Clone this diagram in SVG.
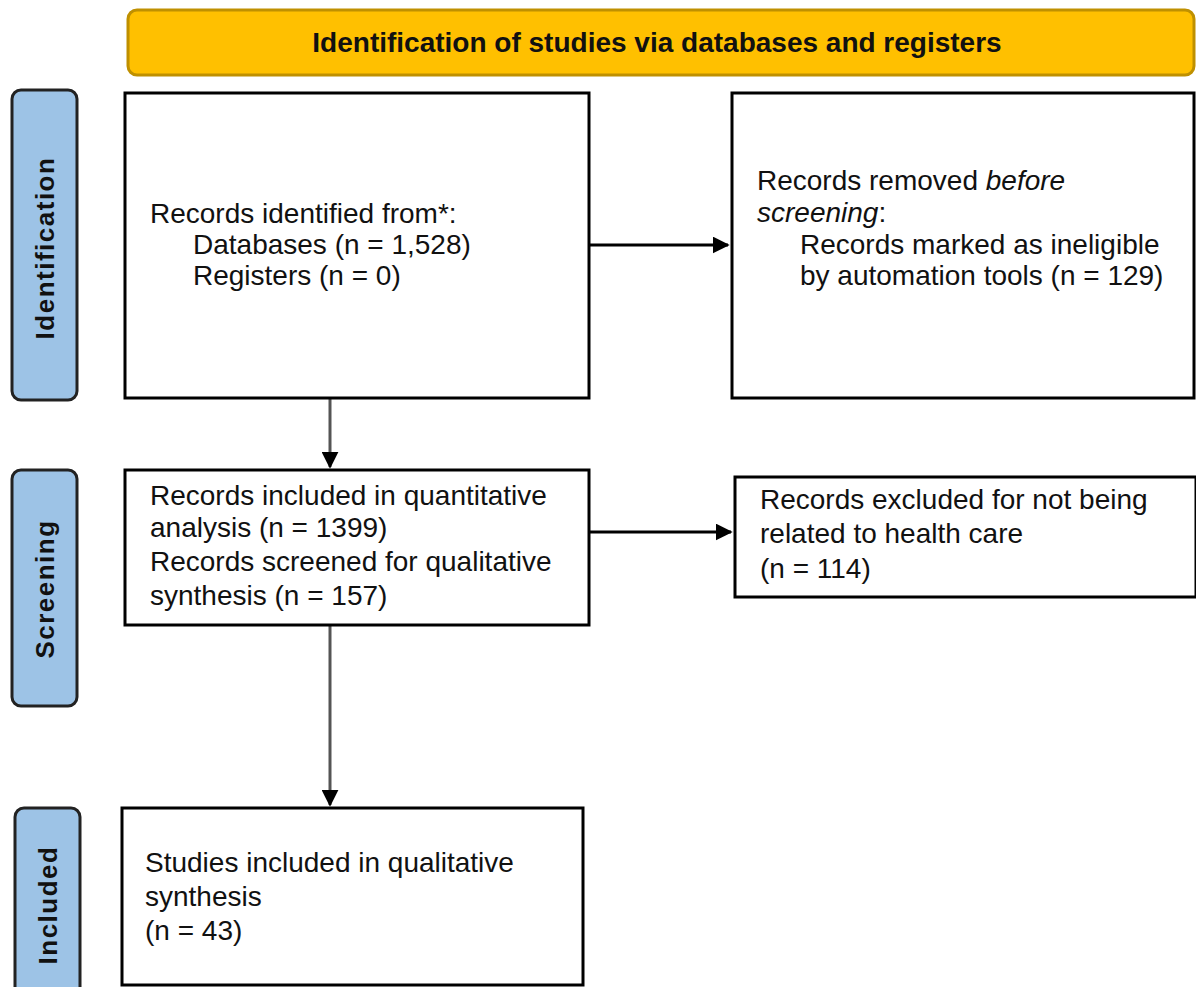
<svg xmlns="http://www.w3.org/2000/svg" width="1196" height="987" viewBox="0 0 1196 987">
<style>
.box{fill:#ffffff;stroke:#000000;stroke-width:3}
.side{fill:#9DC3E6;stroke:#222222;stroke-width:3}
.head{fill:#FFC000;stroke:#BF9000;stroke-width:3}
.t{font-family:"Liberation Sans",Arial,sans-serif;font-size:28px;fill:#111111}
.b{font-family:"Liberation Sans",Arial,sans-serif;font-size:28px;font-weight:bold;fill:#111111}
.s{font-family:"Liberation Sans",Arial,sans-serif;font-size:26px;font-weight:bold;fill:#111111;letter-spacing:1.5px}
.conn{stroke:#000000;stroke-width:3;fill:none}
.connv{stroke:#555555;stroke-width:3;fill:none}
</style>
<defs>
<marker id="arrL" viewBox="0 0 10 10" refX="9" refY="5" markerWidth="17" markerHeight="17" orient="auto" markerUnits="userSpaceOnUse">
<path d="M0,0 L10,5 L0,10 z" fill="#000000"/>
</marker>
</defs>
<rect width="1196" height="987" fill="#ffffff"/>

<g id="header">
<rect class="head" x="128" y="10" width="1066" height="65" rx="9"/>
<text class="b" x="657" y="52" text-anchor="middle">Identification of studies via databases and registers</text>
</g>

<g id="label-identification">
<rect class="side" x="12" y="90" width="65" height="310" rx="9"/>
<text class="s" transform="translate(54,248) rotate(-90)" text-anchor="middle">Identification</text>
</g>
<g id="label-screening">
<rect class="side" x="12" y="470" width="65" height="236" rx="9"/>
<text class="s" transform="translate(54,589) rotate(-90)" text-anchor="middle">Screening</text>
</g>
<g id="label-included">
<rect class="side" x="15" y="808" width="65" height="200" rx="9"/>
<text class="s" transform="translate(57,905) rotate(-90)" text-anchor="middle">Included</text>
</g>

<g id="connectors">
<line class="connv" x1="330" y1="398" x2="330" y2="467" marker-end="url(#arrL)"/>
<line class="connv" x1="330" y1="625" x2="330" y2="805" marker-end="url(#arrL)"/>
<line class="conn" x1="589" y1="245" x2="728" y2="245" marker-end="url(#arrL)"/>
<line class="conn" x1="589" y1="532" x2="731" y2="532" marker-end="url(#arrL)"/>
</g>

<g id="node-identified">
<rect class="box" x="125" y="93" width="464" height="305"/>
<text class="t" x="150" y="223">Records identified from*:</text>
<text class="t" x="193" y="254">Databases (n = 1,528)</text>
<text class="t" x="193" y="285">Registers (n = 0)</text>
</g>

<g id="node-removed">
<rect class="box" x="732" y="93" width="462" height="305"/>
<text class="t" x="757" y="190">Records removed <tspan font-style="italic">before</tspan></text>
<text class="t" x="757" y="222"><tspan font-style="italic">screening</tspan>:</text>
<text class="t" x="800" y="254">Records marked as ineligible</text>
<text class="t" x="800" y="285">by automation tools (n = 129)</text>
</g>

<g id="node-screened">
<rect class="box" x="125" y="470" width="464" height="155"/>
<text class="t" x="150" y="505">Records included in quantitative</text>
<text class="t" x="150" y="537">analysis (n = 1399)</text>
<text class="t" x="150" y="571">Records screened for qualitative</text>
<text class="t" x="150" y="605">synthesis (n = 157)</text>
</g>

<g id="node-excluded">
<rect class="box" x="735" y="477" width="461" height="120"/>
<text class="t" x="760" y="509">Records excluded for not being</text>
<text class="t" x="760" y="543">related to health care</text>
<text class="t" x="760" y="578">(n = 114)</text>
</g>

<g id="node-included">
<rect class="box" x="122" y="808" width="461" height="177"/>
<text class="t" x="145" y="872">Studies included in qualitative</text>
<text class="t" x="145" y="906">synthesis</text>
<text class="t" x="145" y="940">(n = 43)</text>
</g>
</svg>
